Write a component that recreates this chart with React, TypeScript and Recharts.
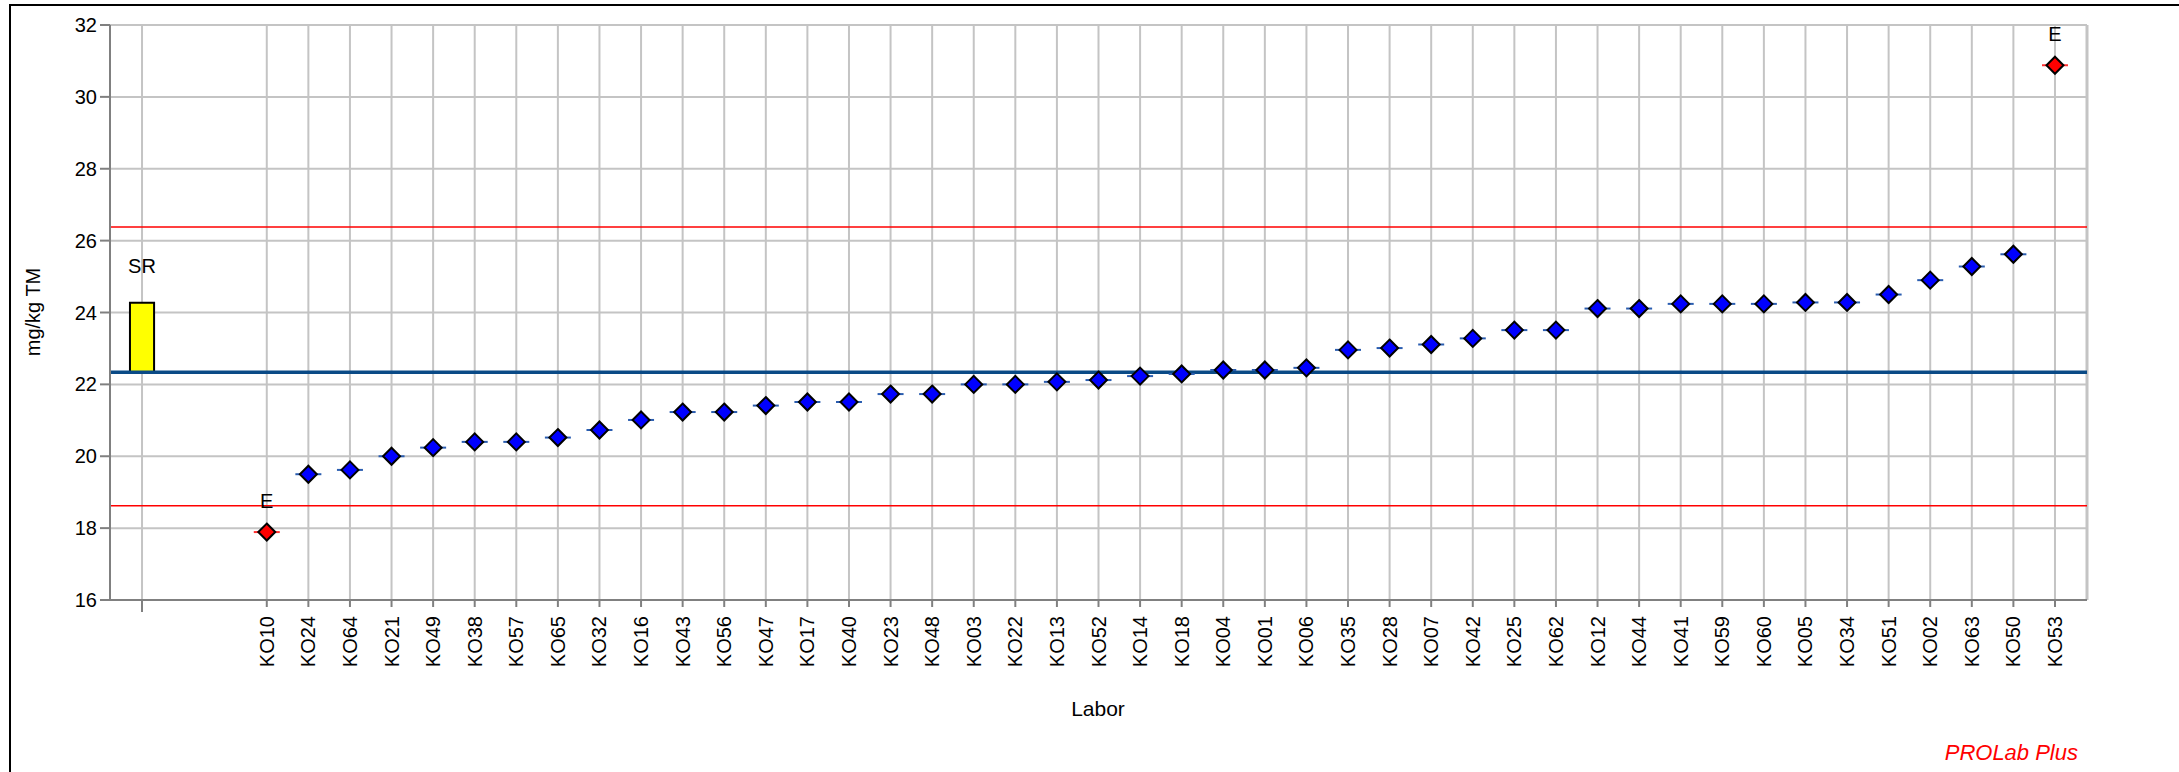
import React from "react";
import {
  ComposedChart,
  Scatter,
  XAxis,
  YAxis,
  CartesianGrid,
  ReferenceLine,
  ReferenceArea,
} from "recharts";

// laboratories, sorted by reported value
const labs = [
  "KO10", "KO24", "KO64", "KO21", "KO49", "KO38", "KO57", "KO65", "KO32", "KO16", "KO43",
  "KO56", "KO47", "KO17", "KO40", "KO23", "KO48", "KO03", "KO22", "KO13", "KO52", "KO14",
  "KO18", "KO04", "KO01", "KO06", "KO35", "KO28", "KO07", "KO42", "KO25", "KO62", "KO12",
  "KO44", "KO41", "KO59", "KO60", "KO05", "KO34", "KO51", "KO02", "KO63", "KO50", "KO53",
];
const values = [
  17.89, 19.5, 19.62, 20.0, 20.24, 20.4, 20.4, 20.52, 20.73, 21.01, 21.23,
  21.23, 21.41, 21.51, 21.51, 21.73, 21.73, 22.0, 22.0, 22.07, 22.12, 22.23,
  22.29, 22.4, 22.4, 22.46, 22.96, 23.01, 23.11, 23.28, 23.51, 23.51, 24.11,
  24.11, 24.24, 24.24, 24.24, 24.28, 24.28, 24.5, 24.9, 25.28, 25.62, 30.88,
];
const outliers = ["KO10", "KO53"];

const assignedValue = 22.34;
const upperLimit = 26.38;
const lowerLimit = 18.62;
const srRange = [22.34, 24.27];
const yTicks = [16, 18, 20, 22, 24, 26, 28, 30, 32];

// SR sits at slot 0, slots 1-2 stay empty, labs start at slot 3
const FIRST_LAB_SLOT = 3;
const LAST_SLOT = FIRST_LAB_SLOT + labs.length - 1;
const PAD = 0.77;

const points = labs.map((lab, i) => ({ x: FIRST_LAB_SLOT + i, y: values[i], lab }));
const okPoints = points.filter((p) => !outliers.includes(p.lab));
const badPoints = points.filter((p) => outliers.includes(p.lab));
const xTicks = [0, ...points.map((p) => p.x)];

const FONT = "'Liberation Sans', Arial, Helvetica, sans-serif";

const Diamond = (props: any) => {
  const { cx, cy, fill, dash, flag } = props;
  const r = 8.5;
  return (
    <g>
      <line x1={cx - 13} x2={cx + 13} y1={cy} y2={cy} stroke={dash} strokeWidth={2} />
      <polygon
        points={`${cx},${cy - r} ${cx + r},${cy} ${cx},${cy + r} ${cx - r},${cy}`}
        fill={fill}
        stroke="#000"
        strokeWidth={2}
      />
      {flag && (
        <text x={cx} y={cy - 24} textAnchor="middle" fontSize={20} fontFamily={FONT} fill="#000">
          {flag}
        </text>
      )}
    </g>
  );
};

const LabTick = (props: any) => {
  const { x, y, payload } = props;
  const idx = payload.value - FIRST_LAB_SLOT;
  const isSR = payload.value === 0;
  return (
    <g>
      <line x1={x} x2={x} y1={y - 16} y2={y - 16 + (isSR ? 12 : 7)} stroke="#808080" strokeWidth={2} />
      {!isSR && (
        <text
          x={x}
          y={y}
          transform={`rotate(-90, ${x}, ${y})`}
          textAnchor="end"
          dominantBaseline="central"
          fontSize={20}
          fontFamily={FONT}
          fill="#000"
        >
          {labs[idx]}
        </text>
      )}
    </g>
  );
};

export default function App() {
  return (
    <div
      style={{
        position: "absolute",
        left: 0,
        top: 0,
        width: 2179,
        height: 772,
        background: "#fff",
        overflow: "hidden",
        fontFamily: FONT,
      }}
    >
      <div
        style={{
          position: "absolute",
          left: 9,
          top: 4,
          width: 2300,
          height: 900,
          borderTop: "2px solid #000",
          borderLeft: "2px solid #000",
        }}
      />
      <div style={{ position: "absolute", left: 0, top: 0 }}>
        <ComposedChart width={2179} height={772} margin={{ top: 25, right: 92, bottom: 0, left: 0 }}>
          <CartesianGrid stroke="#c4c4c4" strokeWidth={2} />
          <XAxis
            type="number"
            dataKey="x"
            domain={[-PAD, LAST_SLOT + PAD]}
            ticks={xTicks}
            interval={0}
            allowDataOverflow
            height={172}
            stroke="#808080"
            strokeWidth={2}
            tickLine={false}
            tickSize={8}
            tickMargin={8}
            tick={<LabTick />}
          />
          <YAxis
            type="number"
            dataKey="y"
            domain={[16, 32]}
            ticks={yTicks}
            interval={0}
            allowDataOverflow
            width={110}
            stroke="#808080"
            strokeWidth={2}
            tickSize={10}
            tickMargin={3}
            tickLine={{ stroke: "#808080", strokeWidth: 2 }}
            tick={{ fill: "#000", fontSize: 20, fontFamily: FONT }}
          />
          <ReferenceLine x={LAST_SLOT + PAD} stroke="#c4c4c4" strokeWidth={3} ifOverflow="visible" />
          <ReferenceLine y={upperLimit} stroke="#ff0000" strokeWidth={1.5} />
          <ReferenceLine y={lowerLimit} stroke="#ff0000" strokeWidth={1.5} />
          <ReferenceLine y={assignedValue} stroke="#0a4a86" strokeWidth={3.5} />
          <ReferenceArea
            x1={-0.29}
            x2={0.29}
            y1={srRange[0]}
            y2={srRange[1]}
            fill="#ffff00"
            fillOpacity={1}
            stroke="#000"
            strokeWidth={2}
            label={{ value: "SR", position: "top", offset: 30, fill: "#000", fontSize: 20, fontFamily: FONT }}
          />
          <Scatter
            data={okPoints}
            isAnimationActive={false}
            shape={(p: any) => <Diamond {...p} fill="#0000ff" dash="#2a5db0" />}
          />
          <Scatter
            data={badPoints}
            isAnimationActive={false}
            shape={(p: any) => <Diamond {...p} fill="#ff0000" dash="#ff3030" flag="E" />}
          />
        </ComposedChart>
      </div>
      <div
        style={{
          position: "absolute",
          left: 33,
          top: 312,
          transform: "translate(-50%, -50%) rotate(-90deg)",
          fontSize: 20,
          whiteSpace: "nowrap",
          color: "#000",
        }}
      >
        mg/kg TM
      </div>
      <div
        style={{
          position: "absolute",
          left: 1098,
          top: 697,
          transform: "translateX(-50%)",
          fontSize: 21,
          lineHeight: "24px",
          color: "#000",
        }}
      >
        Labor
      </div>
      <div
        style={{
          position: "absolute",
          right: 2179 - 2078,
          top: 740,
          fontSize: 22,
          lineHeight: "26px",
          fontStyle: "italic",
          color: "#ff0000",
          whiteSpace: "nowrap",
        }}
      >
        PROLab Plus
      </div>
    </div>
  );
}
